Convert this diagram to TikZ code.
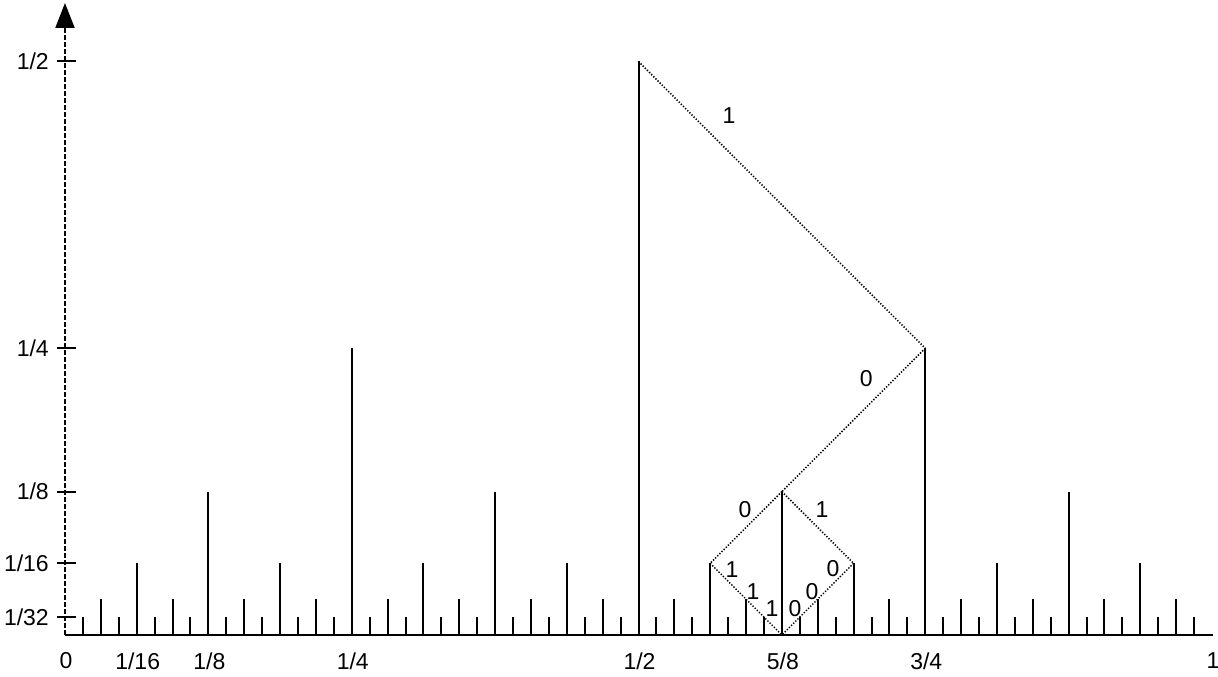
\documentclass[tikz,border=0pt]{standalone}
\usepackage{fontspec}
\setmainfont{Liberation Sans}
\usetikzlibrary{arrows.meta}
\begin{document}
\begin{tikzpicture}[x=1147pt,y=1147pt,
  tickline/.style={line width=2pt},
  axisline/.style={line width=2pt},
  yaxisline/.style={line width=2pt, dash pattern=on 4.5pt off 2.5pt},
  pathline/.style={line width=1.5pt, dash pattern=on 1.3pt off 1.7pt},
  lbl/.style={font=\fontsize{23}{26}\selectfont, inner sep=0pt}]
\useasboundingbox (-65/1147,-42/1147) rectangle (1153/1147,635/1147);
% axes
\coordinate (O) at (0,0);
\coordinate (Xend) at (1.0009,0);
\coordinate (Ytop) at (0,0.551);
\draw[axisline] (O) -- (Xend);
\draw[yaxisline,-{Triangle[length=25pt,width=19pt]}] (O) -- (Ytop);
% ruler ticks
\draw[tickline] (1/2,0) -- (1/2,1/2);
\foreach \n/\m in {4/3,8/7,16/15,32/31,64/63}{
  \foreach \j in {1,3,...,\m}{
    \draw[tickline] (\j/\n,0) -- (\j/\n,1/\n);
  }
}
% y-axis ticks and labels
\foreach \h/\t in {0.5/1\slash 2,0.25/1\slash 4,0.125/1\slash 8,0.0625/1\slash 16,0.015625/1\slash 32}{
  \draw[axisline] (-8/1147,\h) -- (11/1147,\h);
  \node[lbl,anchor=east] at (-16/1147,\h) {\t};
}
% x-axis labels
\foreach \x/\t in {0/0,0.0625/1\slash 16,0.125/1\slash 8,0.25/1\slash 4,0.5/1\slash 2,0.625/5\slash 8,0.75/3\slash 4,1/1}{
  \node[lbl] at (\x+1/1147,-26/1147) {\t};
}
% binary path
\coordinate (A) at (1/2,1/2);
\coordinate (B) at (3/4,1/4);
\coordinate (C) at (5/8,1/8);
\coordinate (D) at (9/16,1/16);
\coordinate (E) at (11/16,1/16);
\coordinate (F) at (5/8,0);
\draw[pathline] (A) -- (B);
\draw[pathline] (B) -- (C);
\draw[pathline] (C) -- (D);
\draw[pathline] (C) -- (E);
\draw[pathline] (D) -- (F);
\draw[pathline] (E) -- (F);
% edge labels
\node[lbl] (l1) at (0.5789,0.4525) {1};
\node[lbl] (l2) at (0.6985,0.2232) {0};
\node[lbl] (l3) at (0.5929,0.1090) {0};
\node[lbl] (l4) at (0.6600,0.1090) {1};
\node[lbl] (l5) at (0.5815,0.0567) {1};
\node[lbl] (l6) at (0.5998,0.0375) {1};
\node[lbl] (l7) at (0.6164,0.0227) {1};
\node[lbl] (l8) at (0.6696,0.0575) {0};
\node[lbl] (l9) at (0.6513,0.0375) {0};
\node[lbl] (l10) at (0.6365,0.0227) {0};
\end{tikzpicture}
\end{document}
